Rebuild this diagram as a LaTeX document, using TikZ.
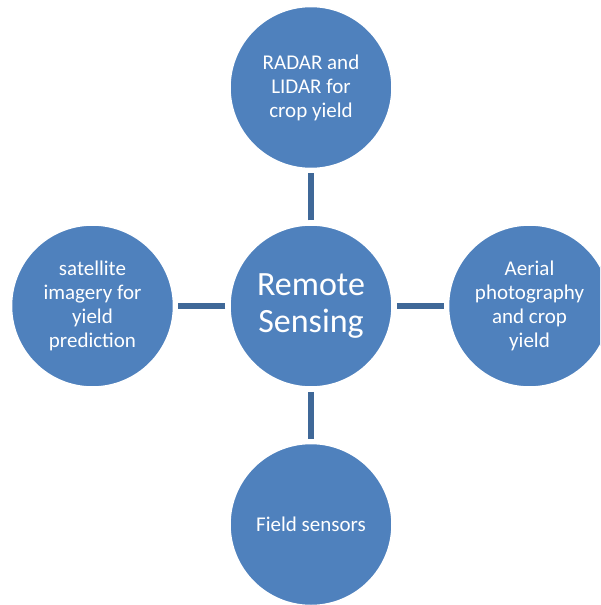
\documentclass[tikz,border=0pt]{standalone}
\usepackage{fontspec}
\setmainfont{Carlito}
\usepackage{xcolor}
\usepackage{tikz}
\usetikzlibrary{positioning}

\definecolor{rsblue}{HTML}{4F81BD}
\definecolor{rsline}{HTML}{3F6898}

\tikzset{
  topic/.style={circle, fill=rsblue, draw=white, line width=1.5pt,
    minimum size=162pt, inner sep=0pt, align=center, text=white,
    font=\fontsize{21}{24}\selectfont},
  hub/.style={topic, font=\fontsize{34}{37}\selectfont},
  link/.style={rsline, line width=6pt, shorten <=4pt, shorten >=4pt}
}

\begin{document}
\begin{tikzpicture}

\useasboundingbox (0pt,0pt) rectangle (600pt,-605pt);
\clip (0pt,0pt) rectangle (600pt,-605pt);

\coordinate(O) at (311pt,-306pt);

\node[hub] (rs) at (O) {Remote\\Sensing};

\node[topic, above=55pt of rs] (radar) {RADAR and\\LIDAR for\\crop yield};
\node[topic, left=55pt of rs] (sat) {satellite\\imagery for\\yield\\prediction};
\node[topic, right=55pt of rs] (aerial) {Aerial\\photography\\and crop\\yield};
\node[topic, below=55pt of rs] (field) {Field sensors};

\draw [link] (rs) -- (radar);
\draw [link] (rs) -- (sat);
\draw [link] (rs) -- (aerial);
\draw [link] (rs) -- (field);

\end{tikzpicture}
\end{document}
